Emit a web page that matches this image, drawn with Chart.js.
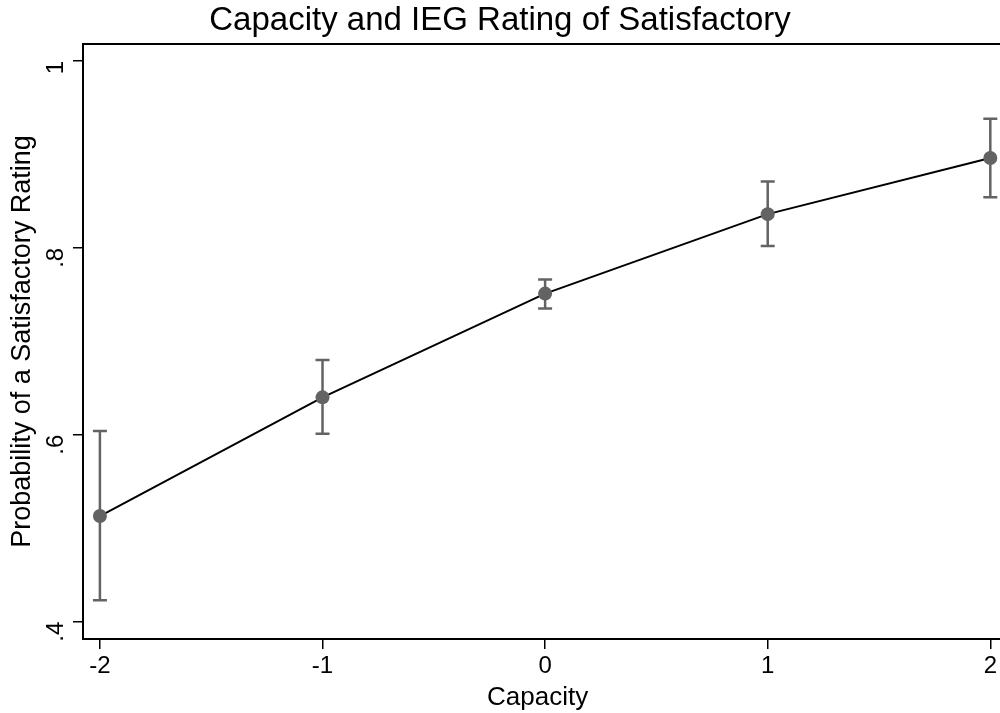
<!DOCTYPE html>
<html>
<head>
<meta charset="utf-8">
<script src="https://cdn.jsdelivr.net/npm/chart.js@4/dist/chart.umd.min.js"></script>
<style>
  html, body { margin: 0; padding: 0; background: #fff; overflow: hidden; }
  #wrap { width: 1000px; height: 713px; }
</style>
</head>
<body>
<div id="wrap"><canvas id="chart" width="1000" height="713"></canvas></div>
<script>
// values
const capacity = [-2, -1, 0, 1, 2];
const probability = [0.513, 0.640, 0.751, 0.836, 0.896];
const ciLower = [0.423, 0.601, 0.735, 0.802, 0.854];
const ciUpper = [0.604, 0.680, 0.766, 0.871, 0.938];
const yTicks = [0.4, 0.6, 0.8, 1];
const xTicks = [-2, -1, 0, 1, 2];

const FONT = '"Liberation Sans", Arial, Helvetica, sans-serif';
const GREY = '#636363';

const fmtY = v => {
    const r = Math.round(v * 10) / 10;
    if (r === 1) return '1';
    return String(r).replace(/^0/, '');
};

// draws the confidence interval caps, and runs the frame out to the canvas edge
const ciBars = {
    id: 'ciBars',
    beforeDatasetsDraw(chart) {
        const { ctx, scales: { x, y } } = chart;
        ctx.save();
        ctx.strokeStyle = GREY;
        ctx.lineWidth = 2.5;
        capacity.forEach((c, i) => {
            const px = x.getPixelForValue(c);
            const lo = y.getPixelForValue(ciLower[i]);
            const hi = y.getPixelForValue(ciUpper[i]);
            ctx.beginPath();
            ctx.moveTo(px, lo);
            ctx.lineTo(px, hi);
            ctx.moveTo(px - 7, lo);
            ctx.lineTo(px + 7, lo);
            ctx.moveTo(px - 7, hi);
            ctx.lineTo(px + 7, hi);
            ctx.stroke();
        });
        ctx.restore();
    },
    afterDraw(chart) {
        const { ctx, chartArea, width } = chart;
        ctx.save();
        ctx.strokeStyle = '#000';
        ctx.lineWidth = 2;
        ctx.beginPath();
        ctx.moveTo(chartArea.left, chartArea.top);
        ctx.lineTo(width, chartArea.top);
        ctx.moveTo(chartArea.right - 1, chartArea.bottom);
        ctx.lineTo(width, chartArea.bottom);
        ctx.stroke();
        ctx.restore();
    }
};

new Chart(document.getElementById('chart'), {
    type: 'line',
    data: {
        datasets: [{
            data: capacity.map((c, i) => ({ x: c, y: probability[i] })),
            borderColor: '#000',
            borderWidth: 2,
            pointRadius: 7,
            pointBackgroundColor: GREY,
            pointBorderColor: GREY,
            pointBorderWidth: 0,
            tension: 0,
            clip: false
        }]
    },
    options: {
        responsive: false,
        animation: false,
        layout: { padding: 0 },
        plugins: {
            legend: { display: false },
            tooltip: { enabled: false },
            title: {
                display: true,
                text: 'Capacity and IEG Rating of Satisfactory',
                color: '#000',
                font: { family: FONT, size: 33, weight: 'normal' },
                padding: { top: 1, bottom: 3.4 }
            }
        },
        scales: {
            x: {
                type: 'linear',
                min: -2.076,
                max: 2.009,
                afterFit: s => { s.height = 74; },
                afterBuildTicks: s => { s.ticks = xTicks.map(v => ({ value: v })); },
                border: { display: true, color: '#000', width: 2 },
                grid: { display: true, drawOnChartArea: false, tickLength: 10, color: '#000', lineWidth: 1.5 },
                ticks: {
                    color: '#000',
                    font: { family: FONT, size: 24 },
                    padding: 3,
                    maxRotation: 0,
                    callback: v => String(v)
                },
                title: {
                    display: true,
                    text: 'Capacity',
                    color: '#000',
                    font: { family: FONT, size: 26 },
                    padding: { top: 0, bottom: 0 }
                }
            },
            y: {
                type: 'linear',
                min: 0.3815,
                max: 1.018,
                afterFit: s => { s.width = 83; s.paddingTop = 0; s.paddingBottom = 0; },
                afterBuildTicks: s => { s.ticks = yTicks.map(v => ({ value: v })); },
                border: { display: true, color: '#000', width: 2 },
                grid: { display: true, drawOnChartArea: false, tickLength: 10, color: '#000', lineWidth: 1.5 },
                ticks: {
                    color: '#000',
                    font: { family: FONT, size: 24 },
                    padding: 17,
                    minRotation: 90,
                    maxRotation: 90,
                    callback: v => fmtY(v)
                },
                title: {
                    display: true,
                    text: 'Probability of a Satisfactory Rating',
                    color: '#000',
                    font: { family: FONT, size: 27 },
                    padding: { top: 6, bottom: 0 }
                }
            }
        }
    },
    plugins: [ciBars]
});
</script>
</body>
</html>
